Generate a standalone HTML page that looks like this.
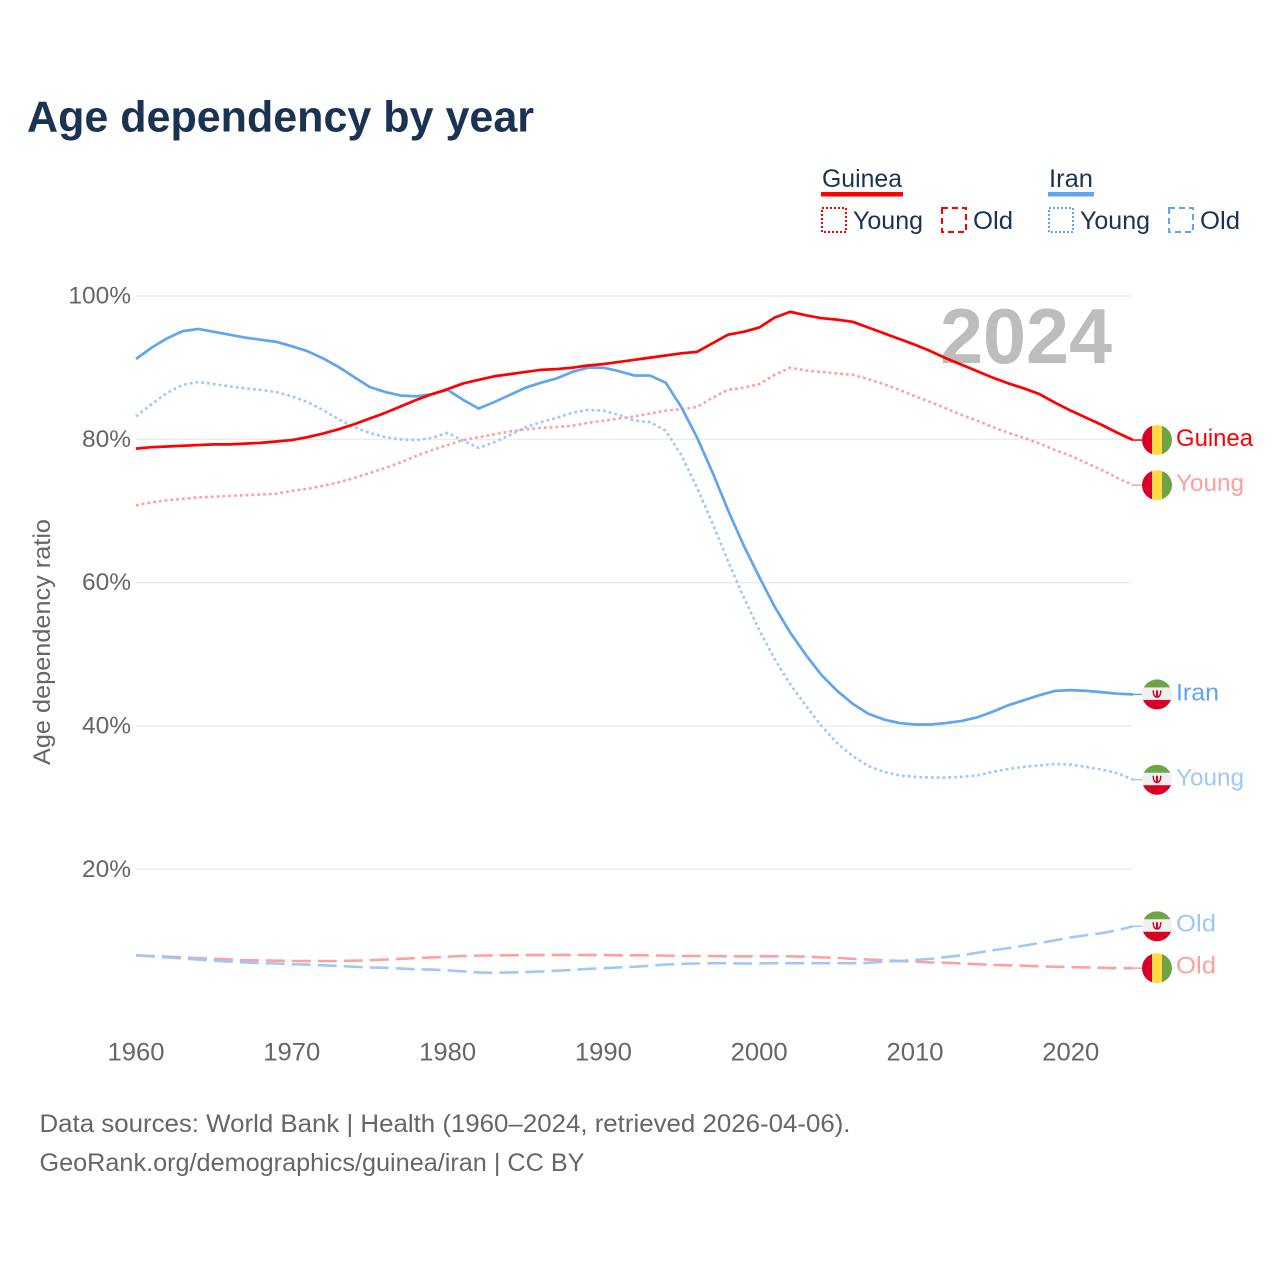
<!DOCTYPE html>
<html lang="en">
<head>
<meta charset="utf-8">
<title>Age dependency by year</title>
<style>
html,body{margin:0;padding:0;background:#fff;}
svg{display:block;font-family:"Liberation Sans",sans-serif;}
</style>
</head>
<body>
<svg id="chart" xmlns="http://www.w3.org/2000/svg" width="1280" height="1280" viewBox="0 0 1280 1280">
  <defs>
    <clipPath id="flag-clip"><circle cx="0" cy="0" r="15"/></clipPath>
    <g id="flag-guinea">
      <g clip-path="url(#flag-clip)">
        <rect x="-15" y="-15" width="10" height="30" fill="#d80027"/>
        <rect x="-5" y="-15" width="10" height="30" fill="#ffda44"/>
        <rect x="5" y="-15" width="10" height="30" fill="#6da544"/>
      </g>
    </g>
    <g id="flag-iran">
      <g clip-path="url(#flag-clip)">
        <rect x="-15" y="-15" width="30" height="30" fill="#f0f0f0"/>
        <rect x="-15" y="-15" width="30" height="8" fill="#6da544"/>
        <rect x="-15" y="5.5" width="30" height="10" fill="#d80027"/>
        <path d="M-4.5 -4 C-4.5 2 -2 3.5 0 3.5 C2 3.5 4.5 2 4.5 -4 L3 -4 C3 0 2 1.2 1 1.5 L1 -4 L-1 -4 L-1 1.5 C-2 1.2 -3 0 -3 -4 Z" fill="#d80027"/>
      </g>
    </g>
  </defs>

  <rect x="0" y="0" width="1280" height="1280" fill="#fff"/>

  <text x="27" y="131.5" font-size="44" font-weight="700" fill="#1a3353" textLength="507" lengthAdjust="spacingAndGlyphs">Age dependency by year</text>

  <g font-size="25" fill="#1a3353">
    <text x="822" y="187" textLength="80" lengthAdjust="spacingAndGlyphs">Guinea</text>
    <rect x="821" y="192" width="82" height="4.5" fill="#ff0000"/>
    <rect x="822" y="208" width="24" height="24" fill="none" stroke="#ff0000" stroke-width="2" stroke-dasharray="2 2"/>
    <text x="853" y="229" textLength="70" lengthAdjust="spacingAndGlyphs">Young</text>
    <rect x="942" y="208" width="24" height="24" fill="none" stroke="#ff0000" stroke-width="2" stroke-dasharray="6 4"/>
    <text x="973" y="229" textLength="40" lengthAdjust="spacingAndGlyphs">Old</text>
    <text x="1049" y="187" textLength="44" lengthAdjust="spacingAndGlyphs">Iran</text>
    <rect x="1048" y="192" width="46" height="4.5" fill="#60a5f0"/>
    <rect x="1049" y="208" width="24" height="24" fill="none" stroke="#60a5f0" stroke-width="2" stroke-dasharray="2 2"/>
    <text x="1080" y="229" textLength="70" lengthAdjust="spacingAndGlyphs">Young</text>
    <rect x="1169" y="208" width="24" height="24" fill="none" stroke="#60a5f0" stroke-width="2" stroke-dasharray="6 4"/>
    <text x="1200" y="229" textLength="40" lengthAdjust="spacingAndGlyphs">Old</text>
  </g>

  <text transform="translate(50,642) rotate(-90)" text-anchor="middle" font-size="24" fill="#666" textLength="246" lengthAdjust="spacingAndGlyphs">Age dependency ratio</text>

  <g id="grid"></g>
  <g id="y-ticks"></g>
  <g id="x-ticks"></g>

  <text x="940" y="363" font-size="78" font-weight="700" fill="#bdbdbd" textLength="172" lengthAdjust="spacingAndGlyphs">2024</text>

  <g id="series"></g>
  <g id="end-labels"></g>

  <g font-size="25" fill="#666">
    <text x="39.5" y="1132" textLength="811" lengthAdjust="spacingAndGlyphs">Data sources: World Bank | Health (1960–2024, retrieved 2026-04-06).</text>
    <text x="39.5" y="1171" textLength="545" lengthAdjust="spacingAndGlyphs">GeoRank.org/demographics/guinea/iran | CC BY</text>
  </g>
</svg>
<script>
const startYear = 1960;
const xTickYears = [1960, 1970, 1980, 1990, 2000, 2010, 2020];
const yTickValues = [20, 40, 60, 80, 100];

const guineaTotal = [78.7,78.9,79.0,79.1,79.2,79.3,79.3,79.4,79.5,79.7,79.9,80.3,80.8,81.4,82.1,82.9,83.7,84.6,85.5,86.3,87.0,87.8,88.3,88.8,89.1,89.4,89.7,89.8,90.0,90.3,90.5,90.8,91.1,91.4,91.7,92.0,92.2,93.4,94.6,95.0,95.6,97.0,97.8,97.3,96.9,96.7,96.4,95.6,94.8,94.0,93.2,92.3,91.3,90.4,89.5,88.6,87.8,87.1,86.3,85.1,84.0,83.0,82.0,80.9,79.9];
const guineaYoung = [70.8,71.2,71.5,71.7,71.9,72.0,72.1,72.2,72.3,72.4,72.8,73.1,73.5,74.0,74.6,75.3,76.0,76.8,77.7,78.5,79.2,79.9,80.3,80.7,81.1,81.4,81.6,81.7,81.9,82.3,82.6,82.9,83.2,83.6,84.0,84.2,84.5,85.8,86.9,87.2,87.7,89.0,90.0,89.6,89.4,89.2,89.0,88.4,87.7,86.9,86.0,85.2,84.3,83.4,82.6,81.7,80.9,80.2,79.4,78.5,77.7,76.7,75.7,74.6,73.6];
const guineaOld = [8.0,7.9,7.8,7.7,7.6,7.5,7.4,7.3,7.3,7.25,7.2,7.2,7.2,7.2,7.25,7.3,7.4,7.5,7.6,7.7,7.8,7.9,7.95,8.0,8.0,8.05,8.05,8.05,8.05,8.05,8.05,8.0,8.0,8.0,7.95,7.9,7.9,7.9,7.85,7.85,7.85,7.85,7.85,7.8,7.7,7.65,7.5,7.4,7.3,7.2,7.1,7.0,6.95,6.85,6.75,6.65,6.6,6.55,6.45,6.4,6.35,6.3,6.25,6.2,6.2];
const iranTotal = [91.2,92.8,94.1,95.1,95.4,95.0,94.6,94.2,93.9,93.6,93.0,92.3,91.3,90.1,88.7,87.3,86.6,86.1,86.0,86.3,86.9,85.5,84.3,85.2,86.2,87.2,87.9,88.5,89.4,90.0,90.0,89.5,88.9,88.9,87.9,84.5,80.3,75.4,70.1,65.2,60.8,56.6,53.0,49.9,47.1,44.9,43.1,41.7,40.9,40.4,40.2,40.2,40.4,40.7,41.2,42.0,42.9,43.6,44.3,44.9,45.0,44.9,44.7,44.5,44.4];
const iranYoung = [83.2,84.9,86.5,87.6,88.0,87.7,87.4,87.1,86.9,86.6,86.0,85.2,84.1,82.8,81.7,80.9,80.3,80.0,79.9,80.2,80.9,79.8,78.8,79.6,80.6,81.7,82.4,83.0,83.7,84.1,84.0,83.4,82.6,82.4,81.2,77.8,73.3,68.3,63.0,58.0,53.4,49.3,45.8,42.8,40.0,37.6,35.8,34.4,33.6,33.1,32.9,32.8,32.8,32.9,33.1,33.6,34.0,34.3,34.5,34.7,34.6,34.3,33.9,33.4,32.5];
const iranOld = [8.0,7.85,7.7,7.55,7.4,7.25,7.1,7.0,6.9,6.85,6.75,6.7,6.6,6.5,6.4,6.3,6.25,6.15,6.05,6.0,5.9,5.75,5.6,5.55,5.6,5.65,5.75,5.85,5.95,6.1,6.2,6.3,6.4,6.55,6.7,6.8,6.85,6.9,6.9,6.85,6.85,6.9,6.9,6.9,6.9,6.9,6.9,6.95,7.1,7.2,7.35,7.5,7.75,8.0,8.35,8.7,9.0,9.35,9.7,10.1,10.5,10.8,11.1,11.5,12.05];

const NS = 'http://www.w3.org/2000/svg';
function xScale(year) { return 136 + (year - 1960) * 15.58; }
function yScale(value) { return 1012.6 - value * 7.166; }
function make(tag, attrs, parent) {
  const el = document.createElementNS(NS, tag);
  for (const k in attrs) el.setAttribute(k, attrs[k]);
  parent.appendChild(el);
  return el;
}

const gridGroup = document.getElementById('grid');
const yTickGroup = document.getElementById('y-ticks');
yTickValues.forEach(function (v) {
  const line = make('line', {x1: 136, x2: 1132, y1: yScale(v), y2: yScale(v), stroke: '#ececec', 'stroke-width': 1.5}, gridGroup);
  
  
  const label = make('text', {x: 131, y: yScale(v) + 7.5, 'text-anchor': 'end', 'font-size': 24.5, fill: '#666'}, yTickGroup);
  
  
  label.textContent = v + '%';
});

const xTickGroup = document.getElementById('x-ticks');
xTickYears.forEach(function (yr) {
  const label = make('text', {x: xScale(yr), y: 1060.5, 'text-anchor': 'middle', 'font-size': 25, fill: '#666', textLength: 57, lengthAdjust: 'spacingAndGlyphs'}, xTickGroup);
  
  
  label.textContent = yr;
});

function pathFor(values) {
  return values.map(function (v, i) {
    return (i ? 'L' : 'M') + xScale(startYear + i).toFixed(2) + ' ' + yScale(v).toFixed(2);
  }).join(' ');
}

const seriesGroup = document.getElementById('series');
const labelGroup = document.getElementById('end-labels');

function drawSeries(values, color, width, dash, flagId, labelText, labelColor, labelWidth, labelShift) {
  const attrs = {d: pathFor(values), fill: 'none', stroke: color, 'stroke-width': width, 'stroke-linejoin': 'round'};
  if (dash) attrs['stroke-dasharray'] = dash;
  const path = make('path', attrs, seriesGroup);
  
  
  const lastX = xScale(startYear + values.length - 1);
  const lastY = yScale(values[values.length - 1]);
  const leader = make('line', {x1: lastX, x2: 1142, y1: lastY, y2: lastY, stroke: color, 'stroke-width': 1.5}, labelGroup);
  
  
  const flag = make('use', {href: '#' + flagId, transform: 'translate(1157,' + lastY + ')'}, labelGroup);
  
  
  const label = make('text', {x: 1176, y: lastY + labelShift, 'font-size': 24.5, fill: labelColor, textLength: labelWidth, lengthAdjust: 'spacingAndGlyphs'}, labelGroup);
  
  
  label.textContent = labelText;
}

drawSeries(guineaOld, '#ffa0a0', 2.6, '19 7', 'flag-guinea', 'Old', '#ffa0a0', 40, 5.5);
drawSeries(iranOld, '#a0c8f4', 2.6, '19 7', 'flag-iran', 'Old', '#a0c8f4', 40, 5.5);
drawSeries(guineaYoung, '#ffa0a0', 2.6, '2.8 3', 'flag-guinea', 'Young', '#ffa0a0', 68, 6);
drawSeries(iranYoung, '#a0c8f4', 2.6, '2.8 3', 'flag-iran', 'Young', '#a0c8f4', 68, 6);
drawSeries(iranTotal, '#60a5f0', 2.7, '', 'flag-iran', 'Iran', '#60a5f0', 43, 6);
drawSeries(guineaTotal, '#ff0000', 2.7, '', 'flag-guinea', 'Guinea', '#ff0000', 77, 6);
</script>
</body>
</html>
